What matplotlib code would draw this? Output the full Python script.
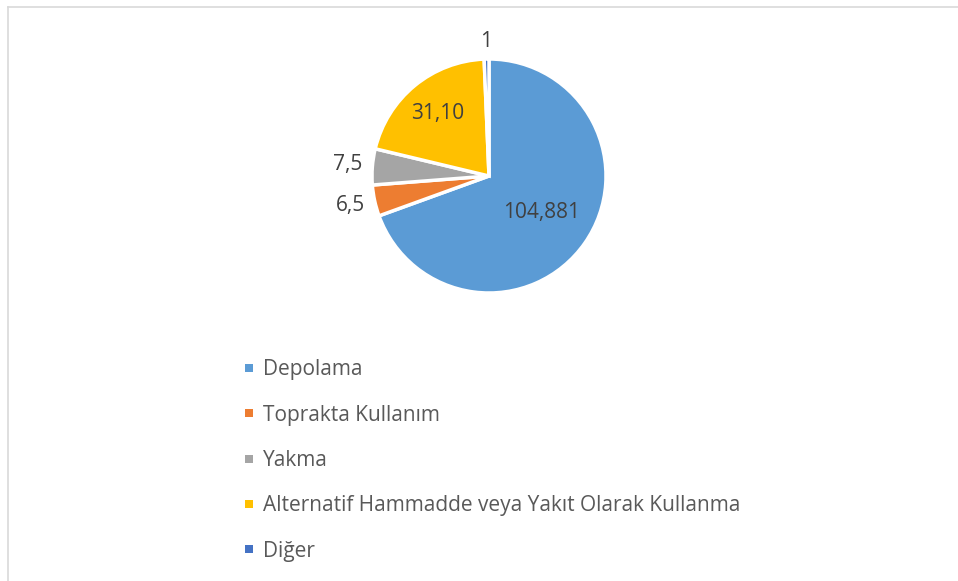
import numpy as np
import matplotlib.pyplot as plt
from matplotlib.patches import Rectangle
from matplotlib.lines import Line2D

# data
categories = ["Depolama", "Toprakta Kullanım", "Yakma",
              "Alternatif Hammadde veya Yakıt Olarak Kullanma", "Diğer"]
values = [104.881, 6.5, 7.5, 31.10, 1]
value_labels = ["104,881", "6,5", "7,5", "31,10", "1"]
colors = ["#5B9BD5", "#ED7D31", "#A5A5A5", "#FFC000", "#4472C4"]
label_dist = [0.55, 1.21, 1.21, 0.69, 1.15]

plt.rcParams['font.family'] = ['Open Sans', 'DejaVu Sans']

W, H = 958, 581
fig = plt.figure(figsize=(W / 100, H / 100), dpi=100)

# pie centre (489,176) px, radius 117 px
cx, cy, r = 489, 176, 117
span = 1.5
ax = fig.add_axes([(cx - span * r) / W, 1 - (cy + span * r) / H,
                   2 * span * r / W, 2 * span * r / H])

wedges, _ = ax.pie(values, colors=colors, startangle=90, counterclock=False,
                   radius=1, wedgeprops=dict(edgecolor='white', linewidth=2.5))
ax.set_xlim(-span, span)
ax.set_ylim(-span, span)
ax.axis('off')

for w, lab, d in zip(wedges, value_labels, label_dist):
    ang = np.deg2rad((w.theta1 + w.theta2) / 2)
    ax.text(d * np.cos(ang), d * np.sin(ang), lab, ha='center', va='center',
            fontsize=15, color='#404040', clip_on=False)

# legend drawn by hand (vertical list)
for i, (name, c) in enumerate(zip(categories, colors)):
    ty = 368 + i * 45.3
    fig.add_artist(Rectangle((245 / W, 1 - (ty + 4) / H), 8 / W, 8 / H,
                             transform=fig.transFigure, facecolor=c,
                             edgecolor='none'))
    fig.text(263 / W, 1 - (ty + 2) / H, name, ha='left', va='center',
             fontsize=15, color='#595959')

# chart frame (top and left edges visible)
fig.add_artist(Line2D([7.5 / W, 1], [1 - 6.5 / H, 1 - 6.5 / H],
                      transform=fig.transFigure, color='#D9D9D9', lw=1.2))
fig.add_artist(Line2D([7.5 / W, 7.5 / W], [0, 1 - 6.5 / H],
                      transform=fig.transFigure, color='#D9D9D9', lw=1.2))

fig.savefig("out.png", dpi=100, facecolor='white')
